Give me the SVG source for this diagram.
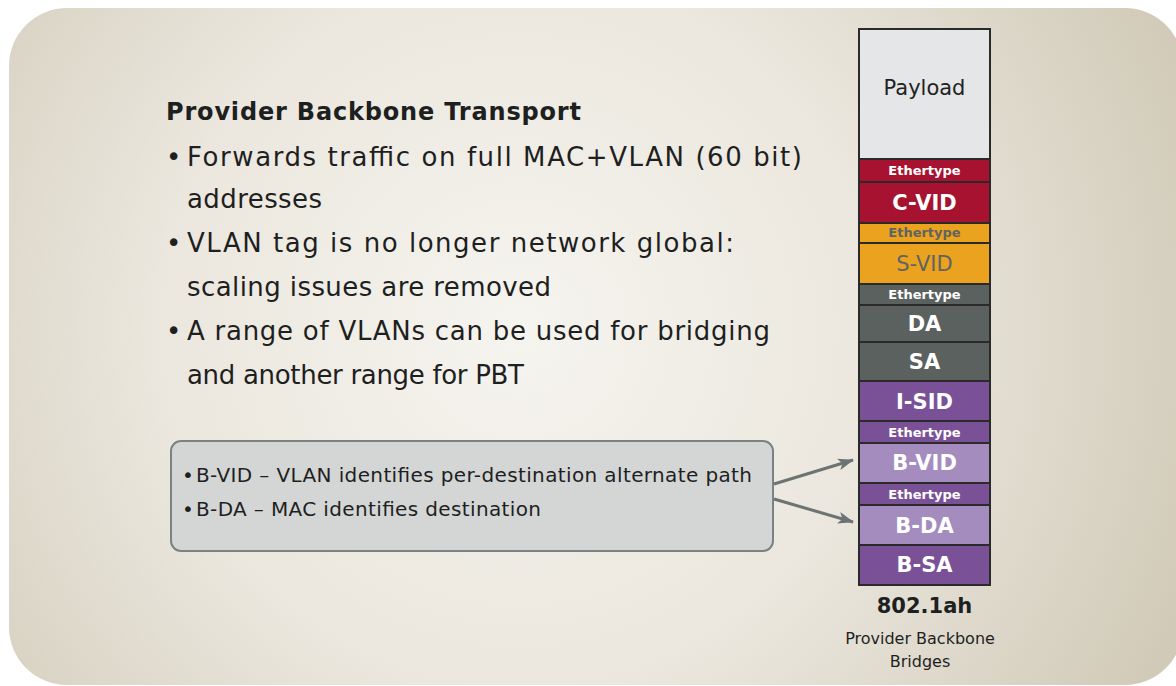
<svg xmlns="http://www.w3.org/2000/svg" width="1176" height="686" viewBox="0 0 1176 686">
<defs>
<radialGradient id="bg" cx="520" cy="330" r="720" gradientUnits="userSpaceOnUse">
<stop offset="0" stop-color="#f6f4ef"/>
<stop offset="0.5" stop-color="#ebe7de"/>
<stop offset="1" stop-color="#d1cab8"/>
</radialGradient>
<marker id="ah" viewBox="0 0 16 12" refX="15" refY="6" markerWidth="16" markerHeight="12" markerUnits="userSpaceOnUse" orient="auto">
<path d="M0,0 L16,6 L0,12 L4,6 z" fill="#6b7373"/>
</marker>
<style>
.t{font-family:"DejaVu Sans","Liberation Sans",sans-serif;fill:#1e1f1f}
.big{font-size:26px}
.title{font-size:24px;font-weight:bold}
.box{font-size:20px}
.seg{stroke:#2a2a2a;stroke-width:2}
.lbl{font-family:"DejaVu Sans","Liberation Sans",sans-serif;font-weight:bold;text-anchor:middle;fill:#ffffff}
.eth{font-size:13px}
.fld{font-size:21px}
.conn{stroke:#6b7373;stroke-width:3;fill:none}
</style>
</defs>
<rect x="0" y="0" width="1176" height="686" fill="#ffffff"/>
<rect x="9" y="8" width="1174" height="677" rx="58" ry="58" fill="url(#bg)"/>

<g id="text-block">
<text class="t title" x="166" y="120" textLength="415">Provider Backbone Transport</text>
<text class="t big" x="166" y="166">•</text>
<text class="t big" x="187" y="166" textLength="615">Forwards traffic on full MAC+VLAN (60 bit)</text>
<text class="t big" x="187" y="208" textLength="135">addresses</text>
<text class="t big" x="166" y="252">•</text>
<text class="t big" x="187" y="252" textLength="547">VLAN tag is no longer network global:</text>
<text class="t big" x="187" y="296" textLength="364">scaling issues are removed</text>
<text class="t big" x="166" y="340">•</text>
<text class="t big" x="187" y="340" textLength="583">A range of VLANs can be used for bridging</text>
<text class="t big" x="187" y="384" textLength="337">and another range for PBT</text>
</g>

<g id="note-box">
<rect x="171" y="441" width="602" height="110" rx="10" ry="10" fill="#d4d6d5" stroke="#7b8283" stroke-width="2"/>
<text class="t box" x="182" y="482">•</text>
<text class="t box" x="196" y="482" textLength="556">B-VID – VLAN identifies per-destination alternate path</text>
<text class="t box" x="182" y="516">•</text>
<text class="t box" x="196" y="516" textLength="345">B-DA – MAC identifies destination</text>
</g>

<g id="frame-stack">
<rect class="seg" x="859" y="29" width="131" height="130" fill="#e5e6e8"/>
<rect class="seg" x="859" y="159" width="131" height="23" fill="#a6122f"/>
<rect class="seg" x="859" y="182" width="131" height="41" fill="#a6122f"/>
<rect class="seg" x="859" y="223" width="131" height="20" fill="#eaa21f"/>
<rect class="seg" x="859" y="243" width="131" height="41" fill="#eaa21f"/>
<rect class="seg" x="859" y="284" width="131" height="21" fill="#5b615f"/>
<rect class="seg" x="859" y="305" width="131" height="37" fill="#5b615f"/>
<rect class="seg" x="859" y="342" width="131" height="39" fill="#5b615f"/>
<rect class="seg" x="859" y="381" width="131" height="40" fill="#7a5196"/>
<rect class="seg" x="859" y="421" width="131" height="22" fill="#7a5196"/>
<rect class="seg" x="859" y="443" width="131" height="40" fill="#a48cbf"/>
<rect class="seg" x="859" y="483" width="131" height="22" fill="#7a5196"/>
<rect class="seg" x="859" y="505" width="131" height="40" fill="#a48cbf"/>
<rect class="seg" x="859" y="545" width="131" height="40" fill="#7a5196"/>
<text class="lbl" x="924.5" y="95" style="font-size:21px;font-weight:normal;fill:#222222">Payload</text>
<text class="lbl eth" x="924.5" y="175">Ethertype</text>
<text class="lbl fld" x="924.5" y="210">C-VID</text>
<text class="lbl eth" x="924.5" y="237" style="fill:#5f6462">Ethertype</text>
<text class="lbl fld" x="924.5" y="271" style="fill:#5f6462;font-weight:normal">S-VID</text>
<text class="lbl eth" x="924.5" y="299">Ethertype</text>
<text class="lbl fld" x="924.5" y="331">DA</text>
<text class="lbl fld" x="924.5" y="369">SA</text>
<text class="lbl fld" x="924.5" y="409">I-SID</text>
<text class="lbl eth" x="924.5" y="437">Ethertype</text>
<text class="lbl fld" x="924.5" y="470">B-VID</text>
<text class="lbl eth" x="924.5" y="499">Ethertype</text>
<text class="lbl fld" x="924.5" y="533">B-DA</text>
<text class="lbl fld" x="924.5" y="572">B-SA</text>
</g>

<g id="stack-caption">
<text class="lbl" x="924.5" y="613" style="font-size:21px;fill:#1e1f1f">802.1ah</text>
<text class="lbl" x="920" y="644" style="font-size:16px;font-weight:normal;fill:#1e1f1f">Provider Backbone</text>
<text class="lbl" x="920" y="667" style="font-size:16px;font-weight:normal;fill:#1e1f1f">Bridges</text>
</g>

<g id="connectors">
<line class="conn" x1="774" y1="484" x2="853" y2="460" marker-end="url(#ah)"/>
<line class="conn" x1="774" y1="499" x2="853" y2="522" marker-end="url(#ah)"/>
</g>
</svg>
